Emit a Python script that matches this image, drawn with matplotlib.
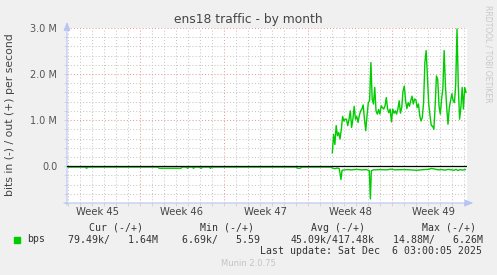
import matplotlib
matplotlib.use("Agg")
import matplotlib.pyplot as plt
import matplotlib.transforms as mtransforms
import numpy as np

# ---------------- data ----------------
# x axis: days since left edge of the graph; values in Mbit/s
week_labels = ["Week 45", "Week 46", "Week 47", "Week 48", "Week 49"]
week_starts = [6.083, 13.083, 20.083, 27.083]
x_span = [0.0, 33.333]

out_start, out_end = 22.11, 33.25
out_vals = [0.29, 0.69, 0.47, 0.88, 0.66, 0.73, 0.59, 0.80, 1.08, 0.98,
            1.02, 1.02, 0.88, 1.02, 1.20, 0.84, 1.02, 1.30, 1.02, 1.08,
            0.95, 1.10, 1.20, 1.24, 1.33, 1.02, 0.77, 1.10, 1.38, 1.42,
            2.25, 1.46, 1.35, 1.71, 1.20, 1.13, 1.23, 1.13, 1.31, 1.27,
            1.24, 1.31, 1.49, 1.24, 1.16, 1.24, 0.96, 1.24, 1.15, 1.20,
            1.13, 1.24, 1.42, 1.15, 1.27, 1.63, 1.74, 1.42, 1.25, 1.38,
            1.30, 1.42, 1.52, 1.35, 1.46, 1.44, 1.27, 1.35, 1.10, 0.98,
            1.06, 1.38, 2.25, 2.51, 1.93, 1.35, 1.10, 0.88, 0.87, 0.80,
            1.31, 1.96, 1.88, 1.31, 1.13, 1.46, 1.68, 2.51, 1.74, 1.27,
            0.91, 1.27, 1.42, 1.57, 1.42, 1.38, 1.78, 2.98, 1.74, 1.02,
            1.27, 1.71, 1.24, 1.71, 1.60]

# incoming (-) traffic
in_days = [0.0, 1.5, 1.64, 1.75, 7.58, 7.67, 9.5, 9.58, 9.92, 10.04,
           10.17, 10.42, 10.54, 10.67, 11.0, 11.17, 11.33, 11.83, 11.96, 12.08,
           19.08, 19.25, 19.42, 19.58, 22.0, 22.11, 22.33, 22.53, 22.69, 22.83,
           22.92, 23.03, 23.31, 23.72, 24.14, 24.56, 24.97, 25.19, 25.28, 25.36,
           25.53, 26.08, 26.64, 26.97, 27.33, 28.03, 28.58, 29.14, 29.69, 30.11,
           30.39, 30.67, 30.94, 31.22, 31.5, 31.78, 32.06, 32.25, 32.42, 32.58,
           32.75, 32.97, 33.19]
in_vals = [-0.02, -0.02, -0.045, -0.02, -0.02, -0.045, -0.045, -0.02, -0.02, -0.045,
           -0.02, -0.02, -0.045, -0.02, -0.02, -0.045, -0.02, -0.02, -0.045, -0.02,
           -0.02, -0.045, -0.045, -0.02, -0.02, -0.04, -0.055, -0.04, -0.055, -0.29,
           -0.09, -0.085, -0.075, -0.08, -0.07, -0.08, -0.075, -0.10, -0.71, -0.10,
           -0.08, -0.075, -0.08, -0.065, -0.08, -0.075, -0.08, -0.09, -0.075, -0.07,
           -0.05, -0.065, -0.08, -0.075, -0.085, -0.07, -0.08, -0.09, -0.07, -0.095,
           -0.075, -0.085, -0.075]

y_ticks = [0, 1, 2, 3]
y_tick_labels = ["0.0", "1.0 M", "2.0 M", "3.0 M"]

legend_headers = ["Cur (-/+)", "Min (-/+)", "Avg (-/+)", "Max (-/+)"]
legend_values = ["79.49k/   1.64M", "6.69k/   5.59", "45.09k/417.48k", "14.88M/   6.26M"]

# ---------------- figure ----------------
W, H = 497, 275
fig = plt.figure(figsize=(W / 100, H / 100), dpi=100, facecolor="#F0F0F0")
ax = fig.add_axes([67 / W, (H - 203) / H, 400 / W, 175 / H])
ax.set_facecolor("white")
for s in ax.spines.values():
    s.set_visible(False)

ax.set_xlim(*x_span)
ax.set_ylim(-0.8, 3.0)

# grid
ax.set_xticks(week_starts)
ax.set_xticks(np.arange(0.083, 33.4, 1.0), minor=True)
ax.set_yticks(y_ticks)
ax.set_yticks(np.arange(-0.8, 3.01, 0.2), minor=True)
ax.set_xticklabels([])
ax.set_yticklabels(y_tick_labels)
ax.grid(which="minor", color="#C8C8C8", linestyle=(0, (1, 2)), linewidth=0.75)
ax.grid(which="major", color="#EE9A9A", linestyle=(0, (1, 2)), linewidth=0.75)
ax.tick_params(which="both", length=2, width=0.6, color="#D0D0D0")
ax.tick_params(axis="y", which="major", pad=5, labelsize=7, labelcolor="#555555")
ax.set_axisbelow(True)

# series
out_days = np.linspace(out_start, out_end, len(out_vals))
ax.plot(in_days, in_vals, color="#00CC00", lw=1.0, zorder=3)
ax.axhline(0, color="black", lw=0.9, zorder=4)
ax.plot(out_days, out_vals, color="#00CC00", lw=1.0, zorder=5)

# axis arrows
arrow_col = "#B8C4F4"
ax.annotate("", xy=(1.016, 0), xytext=(-0.008, 0), xycoords="axes fraction",
            arrowprops=dict(arrowstyle="-|>,head_length=0.5,head_width=0.2",
                            color=arrow_col, lw=0.8, shrinkA=0, shrinkB=0),
            annotation_clip=False)
ax.annotate("", xy=(0, 1.035), xytext=(0, -0.012), xycoords="axes fraction",
            arrowprops=dict(arrowstyle="-|>,head_length=0.5,head_width=0.2",
                            color=arrow_col, lw=0.8, shrinkA=0, shrinkB=0),
            annotation_clip=False)

# week labels
trans = mtransforms.blended_transform_factory(ax.transData, fig.transFigure)
for i, lab in enumerate(week_labels):
    c = week_starts[0] - 3.5 + 7 * i
    ax.text(c, 1 - 212 / H, lab, transform=trans, ha="center", va="center",
            fontsize=7.2, color="#444444")

# title and axis label
fig.text(248 / W, 1 - 19 / H, "ens18 traffic - by month", ha="center", va="center",
         fontsize=8.8, color="#444444")
fig.text(10 / W, 1 - 115 / H, "bits in (-) / out (+) per second", ha="center",
         va="center", rotation=90, fontsize=7.8, color="#444444")
fig.text(488 / W, 1 - 5 / H, "RRDTOOL / TOBI OETIKER", ha="center", va="top",
         rotation=270, fontsize=5.5, color="#C8C8C8")

# legend
mono = dict(family="DejaVu Sans Mono", fontsize=7.1, color="#333333")
header_right = [143, 254, 365, 476]
value_right = [158, 260, 375, 483]
for hx, t in zip(header_right, legend_headers):
    fig.text(hx / W, 1 - 228 / H, t, ha="right", va="center", **mono)
for vx, t in zip(value_right, legend_values):
    fig.text(vx / W, 1 - 239.5 / H, t, ha="right", va="center", **mono)
fig.text(27 / W, 1 - 239.5 / H, "bps", ha="left", va="center", **mono)
fig.patches.append(plt.Rectangle((14 / W, 1 - 242.5 / H), 5.5 / W, 5.5 / H,
                                 transform=fig.transFigure, color="#00CC00"))
fig.text(482 / W, 1 - 251 / H, "Last update: Sat Dec  6 03:00:05 2025",
         ha="right", va="center", **mono)
fig.text(248 / W, 1 - 264 / H, "Munin 2.0.75", ha="center", va="center",
         fontsize=6, color="#C4C4C4")

fig.savefig("out.png", dpi=100, facecolor=fig.get_facecolor())
